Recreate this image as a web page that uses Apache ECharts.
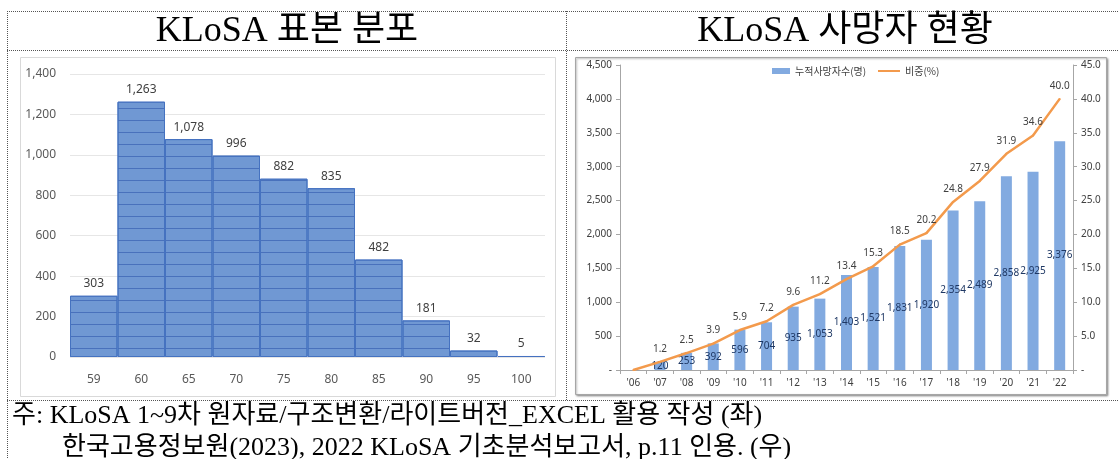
<!DOCTYPE html>
<html>
<head>
<meta charset="utf-8">
<script src="https://cdn.jsdelivr.net/npm/echarts@6/dist/echarts.min.js"></script>
<style>html,body{margin:0;padding:0;background:#fff}#c{width:1119px;height:459px}</style>
</head>
<body>
<div id="c"></div>
<script>
// ---- data ----
const ageCats = ['59','60','65','70','75','80','85','90','95','100'];
const ageCounts = [303,1263,1078,996,882,835,482,181,32,5];
const yearCats = ["'06","'07","'08","'09","'10","'11","'12","'13","'14","'15","'16","'17","'18","'19","'20","'21","'22"];
const deaths = [0,120,253,392,596,704,935,1053,1403,1521,1831,1920,2354,2489,2858,2925,3376];
const ratio = [0,1.2,2.5,3.9,5.9,7.2,9.6,11.2,13.4,15.3,18.5,20.2,24.8,27.9,31.9,34.6,40.0];
const titleLeft = 'KLoSA 표본 분포';
const titleRight = 'KLoSA 사망자 현황';
const note1 = '주: KLoSA 1~9차 원자료/구조변환/라이트버전_EXCEL 활용 작성 (좌)';
const note2 = '한국고용정보원(2023), 2022 KLoSA 기초분석보고서, p.11 인용. (우)';
const legendBar = '누적사망자수(명)';
const legendLine = '비중(%)';

const serif = "'Liberation Serif', 'Noto Sans CJK KR', serif";
const sans = "'Noto Sans', 'Noto Sans CJK KR', sans-serif";
const kr = "'Noto Sans CJK KR', sans-serif";
const comma = v => v.toLocaleString('en-US');
const dot = {stroke:'#555', lineWidth:1, lineDash:[1,1]};
const orange = '#f39a4c';

const chart = echarts.init(document.getElementById('c'));
chart.setOption({
  animation:false,
  backgroundColor:'#fff',
  graphic:[
    {type:'rect', z:-10, shape:{x:20.5,y:57.5,width:535,height:339}, style:{fill:'#fff', stroke:'#d9d9d9', lineWidth:1}},
    {type:'rect', z:-10, shape:{x:575.5,y:57.5,width:531,height:337}, style:{fill:'#fff', stroke:'#a6a6a6', lineWidth:1, shadowBlur:2, shadowColor:'rgba(0,0,0,0.35)', shadowOffsetX:1, shadowOffsetY:1}},
    {type:'line', shape:{x1:7,y1:11.5,x2:1119,y2:11.5}, style:dot},
    {type:'line', shape:{x1:7,y1:50.5,x2:1119,y2:50.5}, style:dot},
    {type:'line', shape:{x1:7,y1:400.5,x2:1119,y2:400.5}, style:dot},
    {type:'line', shape:{x1:7.5,y1:11,x2:7.5,y2:459}, style:dot},
    {type:'line', shape:{x1:566.5,y1:11,x2:566.5,y2:400}, style:dot},
    {type:'text', x:287, y:32, style:{text:titleLeft, font:'36px '+serif, fill:'#000', align:'center', verticalAlign:'middle'}},
    {type:'text', x:845, y:32, style:{text:titleRight, font:'36px '+serif, fill:'#000', align:'center', verticalAlign:'middle'}},
    {type:'text', x:12, y:416, style:{text:note1, font:'26px '+serif, fill:'#000', verticalAlign:'middle'}},
    {type:'text', x:62, y:448, style:{text:note2, font:'26px '+serif, fill:'#000', verticalAlign:'middle'}}
  ],
  legend:[
    {left:767, top:61, itemWidth:18, itemHeight:6,
     textStyle:{fontFamily:kr, fontSize:10, color:'#404040'},
     data:[{name:legendBar, icon:'rect'}]},
    {left:873, top:61, itemWidth:22, itemHeight:2,
     textStyle:{fontFamily:kr, fontSize:10, color:'#404040'},
     data:[{name:legendLine, icon:'rect', itemStyle:{color:orange, opacity:1}}]}
  ],
  grid:[
    {left:70, right:574, top:74, bottom:102},
    {left:620, right:46, top:65, bottom:89}
  ],
  xAxis:[
    {type:'category', gridIndex:0, data:ageCats, boundaryGap:true,
     axisLine:{show:false}, axisTick:{show:false},
     axisLabel:{margin:17, fontFamily:sans, fontSize:12, color:'#595959'}},
    {type:'category', gridIndex:1, data:yearCats, boundaryGap:true,
     axisLine:{lineStyle:{color:'#a6a6a6'}}, axisTick:{show:true, length:4, lineStyle:{color:'#a6a6a6'}},
     axisLabel:{margin:8, fontFamily:sans, fontSize:10, color:'#404040'}}
  ],
  yAxis:[
    {type:'value', gridIndex:0, min:0, max:1400, interval:200,
     axisLine:{show:false}, axisTick:{show:false},
     splitLine:{lineStyle:{color:'#e6e6e6'}},
     axisLabel:{margin:14, fontFamily:sans, fontSize:12, color:'#595959', formatter:v=>comma(v)}},
    {type:'value', gridIndex:1, min:0, max:4500, interval:500,
     axisLine:{show:true, lineStyle:{color:'#a6a6a6'}}, axisTick:{show:true, length:4, lineStyle:{color:'#a6a6a6'}},
     splitLine:{show:false},
     axisLabel:{margin:8, fontFamily:sans, fontSize:10, color:'#404040', formatter:v=>v===0?'-':comma(v)}},
    {type:'value', gridIndex:1, position:'right', min:0, max:45, interval:5,
     axisLine:{show:true, lineStyle:{color:'#a6a6a6'}}, axisTick:{show:true, length:4, lineStyle:{color:'#a6a6a6'}},
     splitLine:{show:false},
     axisLabel:{margin:8, fontFamily:sans, fontSize:10, color:'#404040', formatter:v=>v===0?'-':v.toFixed(1)}}
  ],
  series:[
    {type:'bar', xAxisIndex:0, yAxisIndex:0, data:ageCounts, barWidth:'100%', barGap:0,
     itemStyle:{color:'#7098d3', borderColor:'#4572c0', borderWidth:1,
       decal:{symbol:'rect', symbolSize:1, dashArrayX:[1,0], dashArrayY:[1,11], color:'rgba(60,100,180,0.75)'}},
     label:{show:true, position:'top', distance:6, fontFamily:sans, fontSize:12, color:'#404040', formatter:p=>comma(p.value)}},
    {name:legendBar, type:'bar', xAxisIndex:1, yAxisIndex:1, data:deaths, barWidth:11,
     itemStyle:{color:'#82aae0'},
     label:{show:true, position:'inside', fontFamily:sans, fontSize:10, color:'#1f3864', formatter:p=>p.value?comma(p.value):''}},
    {name:legendLine, type:'line', xAxisIndex:1, yAxisIndex:2, data:ratio, showSymbol:true, symbol:'circle', symbolSize:2,
     lineStyle:{color:orange, width:2.5}, itemStyle:{color:orange},
     label:{show:true, position:'top', distance:7, fontFamily:sans, fontSize:10, color:'#404040', formatter:p=>p.value?p.value.toFixed(1):''}}
  ]
});
</script>
</body>
</html>
